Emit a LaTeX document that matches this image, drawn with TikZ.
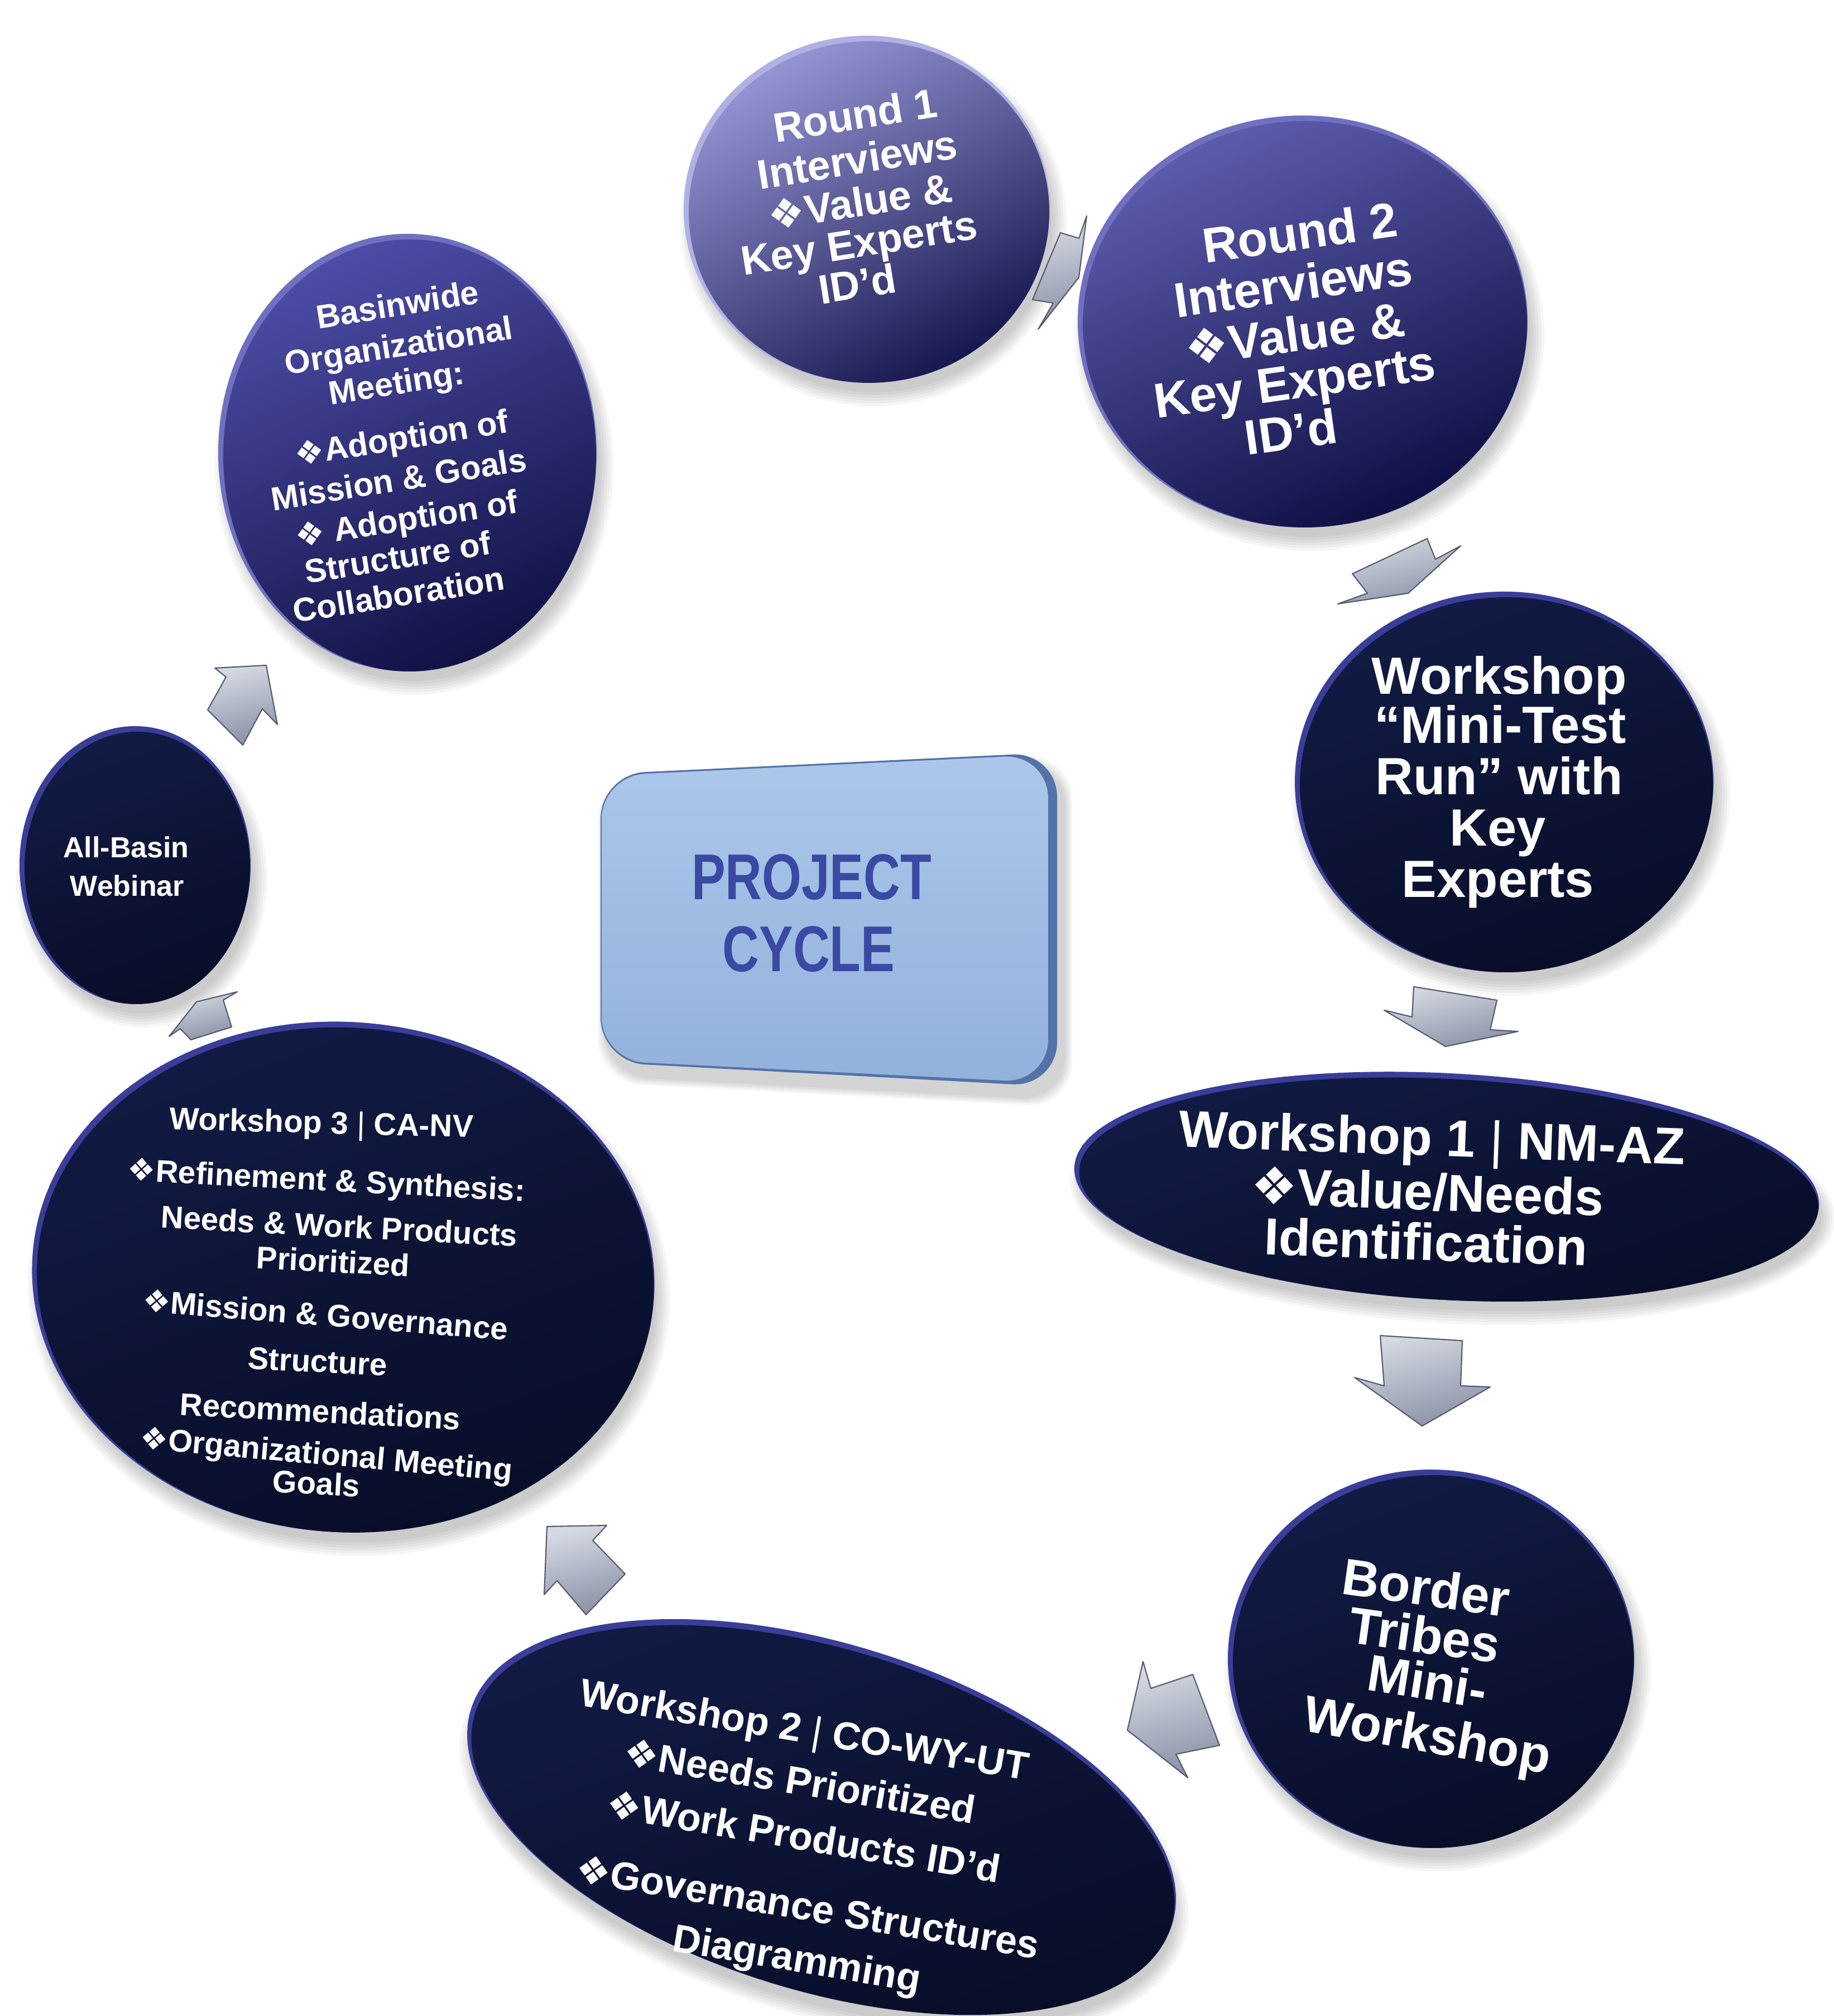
\documentclass[tikz,border=0pt]{standalone}
\usepackage{fontspec}
\setmainfont{Liberation Sans}
\newfontfamily\dvf{DejaVu Sans}
\usetikzlibrary{calc}
\definecolor{navyA}{HTML}{111B44}
\definecolor{navyB}{HTML}{080D28}
\definecolor{navyRim}{HTML}{3A3E98}
\definecolor{rOneTop}{HTML}{9494D4}
\definecolor{rOneBot}{HTML}{181850}
\definecolor{rOneRim}{HTML}{B0B0E4}
\definecolor{rTwoTop}{HTML}{5C5CAE}
\definecolor{rTwoBot}{HTML}{0F0F45}
\definecolor{rTwoRim}{HTML}{7070C0}
\definecolor{bwTop}{HTML}{4C4CA6}
\definecolor{bwBot}{HTML}{121246}
\definecolor{arrowhi}{HTML}{D6DAE3}
\definecolor{arrowlo}{HTML}{8A91A6}
\definecolor{arrowedge}{HTML}{555A6E}
\definecolor{boxhi}{HTML}{ABC7EA}
\definecolor{boxlo}{HTML}{92B1DB}
\definecolor{boxrim}{HTML}{5272A8}
\definecolor{boxtext}{HTML}{3A49A3}
\newcommand\dia{{\dvf ❖}}
% x, y, rx, ry, rot, rim, top, bottom, shading angle
\newcommand\bub[9]{%
 \begin{scope}[rotate around={#5:(#1,#2)}]
  \foreach \k in {1,...,6}{\fill[black,opacity=0.035] (#1+0.12,#2-0.24) ellipse [x radius=#3+0.05*\k-0.12, y radius=#4+0.05*\k-0.12];}
  \fill[#6] (#1,#2) ellipse [x radius=#3, y radius=#4];
  \shade[top color=#7, bottom color=#8, shading angle=#9] (#1+0.04,#2-0.05) ellipse [x radius=#3-0.05, y radius=#4-0.05];
 \end{scope}}
% name, x, y, rotation, font size, text
\newcommand\tline[6]{\node[txt, rotate=#4, yshift=-0.22*#5pt, text height=0.66*#5pt, text depth=0.02*#5pt,
  font=\fontsize{#5}{#5}\selectfont\bfseries] (#1) at (#2,#3) {#6};}
\begin{document}
\begin{tikzpicture}[
  txt/.style={text=white, inner sep=0pt, anchor=mid},
  arrowshape/.style={top color=arrowhi, bottom color=arrowlo, shading angle=15, draw=arrowedge, line width=0.6pt, line join=round}]
\useasboundingbox (0,0) rectangle (32.85,36.12);
\fill[white] (0,0) rectangle (32.85,36.12);

% ---------- bubbles ----------
\bub{15.53}{32.37}{3.28}{3.11}{0}{rOneRim}{rOneTop}{rOneBot}{30}
\bub{23.34}{30.36}{4.03}{3.69}{0}{rTwoRim}{rTwoTop}{rTwoBot}{25}
\bub{26.95}{22.11}{3.75}{3.41}{0}{navyRim}{navyA}{navyB}{20}
\bub{25.92}{14.86}{6.68}{2.03}{-3}{navyRim}{navyA}{navyB}{20}
\bub{25.64}{6.40}{3.64}{3.39}{0}{navyRim}{navyA}{navyB}{20}
\bub{14.72}{3.57}{6.57}{3.11}{-17}{navyRim}{navyA}{navyB}{20}
\bub{6.15}{13.24}{5.58}{4.57}{-4}{navyRim}{navyA}{navyB}{20}
\bub{2.42}{20.62}{2.07}{2.49}{0}{navyRim}{navyA}{navyB}{20}
\bub{7.30}{28.01}{3.39}{3.92}{0}{rTwoRim}{bwTop}{bwBot}{25}

% ---------- block arrows ----------
\path[arrowshape] (19.00,31.95) -- (19.33,31.85) -- (19.47,32.25) -- (19.33,31.15) -- (18.60,30.22) -- (18.87,30.69) -- (18.50,30.75) -- cycle;
\path[arrowshape] (24.23,25.84) -- (25.57,26.47) -- (25.72,26.10) -- (26.17,26.34) -- (25.23,25.49) -- (23.97,25.30) -- (24.50,25.49) -- cycle;
\path[arrowshape] (25.33,18.44) -- (26.82,18.20) -- (26.70,17.67) -- (27.20,17.64) -- (25.90,17.37) -- (24.80,18.02) -- (25.30,17.90) -- cycle;
\path[arrowshape] (24.73,12.19) -- (26.20,12.10) -- (26.17,11.29) -- (26.70,11.27) -- (25.48,10.57) -- (24.27,11.44) -- (24.80,11.29) -- cycle;
\path[arrowshape] (21.37,6.12) -- (21.85,4.85) -- (21.07,4.69) -- (21.28,4.27) -- (20.20,5.12) -- (20.48,6.35) -- (20.62,5.87) -- cycle;
\path[arrowshape] (9.80,8.77) -- (10.87,8.79) -- (10.62,8.52) -- (11.20,7.92) -- (10.50,7.19) -- (9.98,7.80) -- (9.75,7.55) -- cycle;
\path[arrowshape] (3.52,18.17) -- (4.25,18.35) -- (4.00,18.20) -- (4.15,17.72) -- (3.42,17.49) -- (3.23,17.69) -- (3.03,17.55) -- cycle;
\path[arrowshape] (4.77,24.20) -- (4.97,23.14) -- (4.70,23.42) -- (4.35,22.77) -- (3.72,23.40) -- (4.05,23.99) -- (3.85,24.15) -- cycle;

% ---------- centre box ----------
\foreach \k in {1,...,5}{\fill[black,opacity=0.035,rounded corners=0.8cm] (10.76+0.10-0.03*\k,22.25-0.20+0.03*\k) -- (18.94+0.12+0.03*\k,22.64-0.20+0.03*\k) -- (18.94+0.12+0.03*\k,16.65-0.22-0.03*\k) -- (10.76+0.10-0.03*\k,17.09-0.22-0.03*\k) -- cycle;}
\fill[boxrim,rounded corners=0.8cm] (10.76,22.25) -- (18.94,22.64) -- (18.94,16.65) -- (10.76,17.09) -- cycle;
\shade[top color=boxhi, bottom color=boxlo, rounded corners=0.78cm] (10.78,22.22) -- (18.78,22.60) -- (18.78,16.72) -- (10.78,17.12) -- cycle;
\node[inner sep=0pt, anchor=mid, text=boxtext, xscale=0.785, font=\fontsize{33}{33}\selectfont\bfseries] (pc1) at (14.54,20.10) {PROJECT};
\node[inner sep=0pt, anchor=mid, text=boxtext, xscale=0.785, font=\fontsize{33}{33}\selectfont\bfseries] (pc2) at (14.49,18.81) {CYCLE};

% ---------- texts ----------
% Round 1
\tline{ra}{15.32}{34.05}{9}{21}{Round 1}
\tline{rb}{15.36}{33.26}{9}{21}{Interviews}
\tline{rc}{15.41}{32.50}{9}{21}{\dia Value \&}
\tline{rd}{15.39}{31.77}{9}{21}{Key Experts}
\tline{re}{15.36}{31.03}{9}{21}{ID’d}
% Round 2
\tline{sa}{23.29}{31.93}{8}{25}{Round 2}
\tline{sb}{23.17}{31.01}{8}{25}{Interviews}
\tline{sc}{23.20}{30.11}{8}{25}{\dia Value \&}
\tline{sd}{23.20}{29.26}{8}{25}{Key Experts}
\tline{se}{23.13}{28.36}{8}{25}{ID’d}
% Mini-test
\tline{ma}{26.86}{23.98}{0}{26.7}{Workshop}
\tline{mb}{26.88}{23.10}{0}{26.7}{“Mini-Test}
\tline{mc}{26.86}{22.18}{0}{26.7}{Run” with}
\tline{md}{26.84}{21.26}{0}{26.7}{Key}
\tline{me}{26.84}{20.34}{0}{26.7}{Experts}
% Workshop 1
\tline{wa}{25.66}{15.71}{-2}{26.5}{Workshop 1 {\mdseries|} NM-AZ}
\tline{wb}{25.57}{14.74}{-2}{26.5}{\dia Value/Needs}
\tline{wc}{25.55}{13.84}{-2}{26.5}{Identification}
% Border Tribes
\tline{ba}{25.55}{7.65}{-8}{26.2}{Border}
\tline{bb}{25.52}{6.80}{-8}{26.2}{Tribes}
\tline{bc}{25.57}{5.97}{-9}{26.2}{Mini-}
\tline{bd}{25.57}{5.02}{-10}{26.2}{Workshop}
% Workshop 2
\tline{va}{14.42}{5.14}{-9.5}{20}{Workshop 2 {\mdseries|} CO-WY-UT}
\tline{vb}{14.33}{4.21}{-9.5}{20}{\dia Needs Prioritized}
\tline{vc}{14.40}{3.22}{-9.5}{20}{\dia Work Products ID’d}
\tline{vd}{14.47}{1.96}{-9.5}{20}{\dia Governance Structures}
\tline{ve}{14.28}{1.04}{-9.5}{20}{Diagramming}
% Workshop 3
\tline{ua}{5.76}{16.03}{-1.5}{16}{Workshop 3 {\mdseries|} CA-NV}
\tline{ub}{5.85}{15.00}{-3}{16}{\dia Refinement \& Synthesis:}
\tline{uc}{6.08}{14.17}{-3}{16}{Needs \& Work Products}
\tline{ud}{5.97}{13.54}{-3}{16}{Prioritized}
\tline{ue}{5.83}{12.58}{-4.5}{16}{\dia Mission \& Governance}
\tline{uf}{5.69}{11.75}{-3}{16}{Structure}
\tline{ug}{5.74}{10.85}{-3}{16}{Recommendations}
\tline{uh}{5.85}{10.09}{-5}{16}{\dia Organizational Meeting}
\tline{ui}{5.67}{9.56}{-3}{16}{Goals}
% All-Basin
\tline{aa}{2.26}{20.96}{0}{14.8}{All-Basin}
\tline{ab}{2.28}{20.27}{0}{14.8}{Webinar}
% Basinwide
\tline{ka}{7.12}{30.68}{9}{16.9}{Basinwide}
\tline{kb}{7.14}{29.95}{9}{16.9}{Organizational}
\tline{kc}{7.10}{29.28}{9}{16.9}{Meeting:}
\tline{kd}{7.19}{28.29}{9}{16.9}{\dia Adoption of}
\tline{ke}{7.14}{27.55}{9}{16.9}{Mission \& Goals}
\tline{kf}{7.28}{26.84}{9}{16.9}{\dia\ Adoption of}
\tline{kg}{7.12}{26.15}{9}{16.9}{Structure of}
\tline{kh}{7.14}{25.48}{9}{16.9}{Collaboration}
\end{tikzpicture}
\end{document}
